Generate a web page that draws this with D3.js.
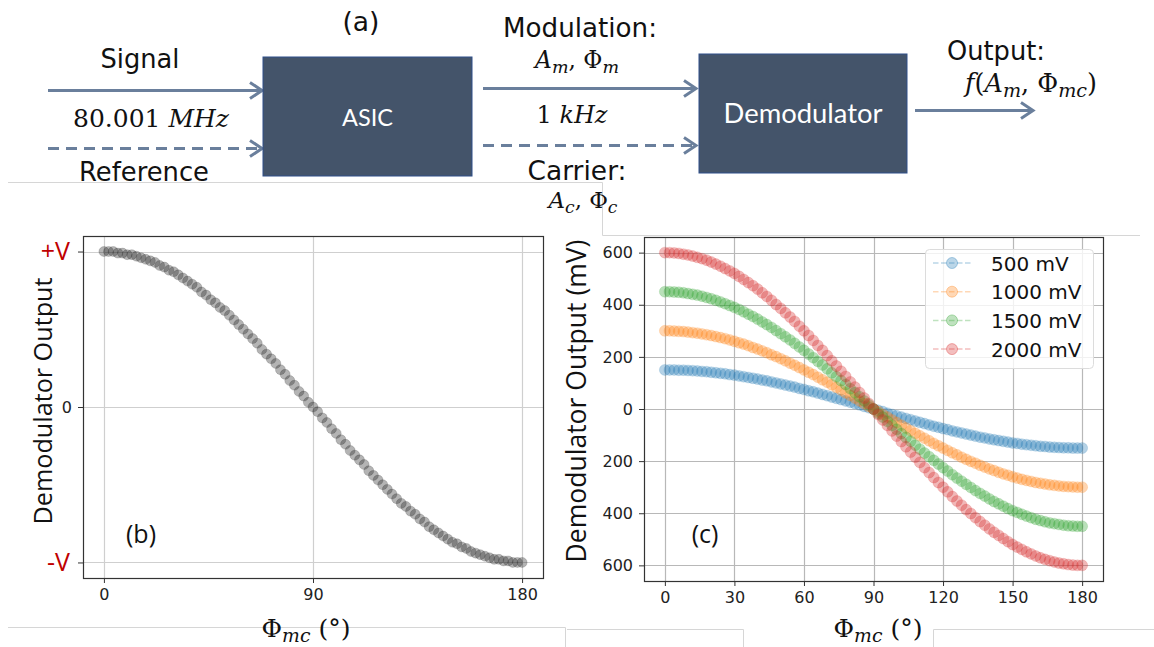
<!DOCTYPE html>
<html><head><meta charset="utf-8">
<script src="https://cdn.jsdelivr.net/npm/d3@7"></script>
<style>html,body{margin:0;padding:0;background:#fff;}svg{display:block;}</style>
</head><body>
<svg id="fig" width="1154" height="647"></svg>
<script>
// ---------------- DATA ----------------
const phases = [0,2,4,6,8,10,12,14,16,18,20,22,24,26,28,30,32,34,36,38,40,42,44,46,48,50,52,54,56,58,60,62,64,66,68,70,72,74,76,78,80,82,84,86,88,90,
 92,94,96,98,100,102,104,106,108,110,112,114,116,118,120,122,124,126,128,130,132,134,136,138,140,142,144,146,148,150,152,154,156,158,160,162,164,166,168,170,172,174,176,178,180];

// panel (b): normalized demodulator output (+V .. -V)
const normOutput = [1.00,1.00,1.00,0.99,0.99,0.98,0.98,0.97,0.96,0.95,0.94,0.93,0.91,0.90,0.88,0.87,0.85,0.83,0.81,0.79,0.77,0.74,0.72,0.69,0.67,0.64,0.62,0.59,0.56,0.53,0.50,0.47,0.44,0.41,0.37,0.34,0.31,0.28,0.24,0.21,0.17,0.14,0.10,0.07,0.03,0.00,
 -0.03,-0.07,-0.10,-0.14,-0.17,-0.21,-0.24,-0.28,-0.31,-0.34,-0.37,-0.41,-0.44,-0.47,-0.50,-0.53,-0.56,-0.59,-0.62,-0.64,-0.67,-0.69,-0.72,-0.74,-0.77,-0.79,-0.81,-0.83,-0.85,-0.87,-0.88,-0.90,-0.91,-0.93,-0.94,-0.95,-0.96,-0.97,-0.98,-0.98,-0.99,-0.99,-1.00,-1.00,-1.00];

// panel (c): demodulator output in mV for each modulation amplitude
const seriesNames = ["500 mV","1000 mV","1500 mV","2000 mV"];
const out500 = [150,150,150,149,149,148,147,146,144,143,141,139,137,135,132,130,127,124,121,118,115,111,108,104,100,96,92,88,84,79,75,70,66,61,56,51,46,41,36,31,26,21,16,10,5,0,
 -5,-10,-16,-21,-26,-31,-36,-41,-46,-51,-56,-61,-66,-70,-75,-79,-84,-88,-92,-96,-100,-104,-108,-111,-115,-118,-121,-124,-127,-130,-132,-135,-137,-139,-141,-143,-144,-146,-147,-148,-149,-149,-150,-150,-150];
const out1000 = [300,300,299,298,297,295,293,291,288,285,282,278,274,270,265,260,254,249,243,236,230,223,216,208,201,193,185,176,168,159,150,141,132,122,112,103,93,83,73,62,52,42,31,21,10,0,
 -10,-21,-31,-42,-52,-62,-73,-83,-93,-103,-112,-122,-132,-141,-150,-159,-168,-176,-185,-193,-201,-208,-216,-223,-230,-236,-243,-249,-254,-260,-265,-270,-274,-278,-282,-285,-288,-291,-293,-295,-297,-298,-299,-300,-300];
const out1500 = [450,450,449,448,446,443,440,437,433,428,423,417,411,404,397,390,382,373,364,355,345,334,324,313,301,289,277,265,252,238,225,211,197,183,169,154,139,124,109,94,78,63,47,31,16,0,
 -16,-31,-47,-63,-78,-94,-109,-124,-139,-154,-169,-183,-197,-211,-225,-238,-252,-265,-277,-289,-301,-313,-324,-334,-345,-355,-364,-373,-382,-390,-397,-404,-411,-417,-423,-428,-433,-437,-440,-443,-446,-448,-449,-450,-450];
const out2000 = [600,600,599,597,594,591,587,582,577,571,564,556,548,539,530,520,509,497,485,473,460,446,432,417,401,386,369,353,336,318,300,282,263,244,225,205,185,165,145,125,104,84,63,42,21,0,
 -21,-42,-63,-84,-104,-125,-145,-165,-185,-205,-225,-244,-263,-282,-300,-318,-336,-353,-369,-386,-401,-417,-432,-446,-460,-473,-485,-497,-509,-520,-530,-539,-548,-556,-564,-571,-577,-582,-587,-591,-594,-597,-599,-600,-600];

// tick values / labels
const xTicksB = [0,90,180];
const yTicksB = [1,0,-1];
const yTickLabelsB = ["+V","0","-V"];
const xTicksC = [0,30,60,90,120,150,180];
const yTicksC = [600,400,200,0,-200,-400,-600];
const yTickLabelsC = ["600","400","200","0","200","400","600"];

// ---------------- DRAW ----------------
const svg = d3.select("#fig");
const colors = ["#1f77b4","#ff7f0e","#2ca02c","#d62728"];
const seriesC = [out500,out1000,out1500,out2000];
const arrowCol = "#6a7f9c";

function fit(sel, target){
  const n = sel.node();
  const fs = parseFloat(sel.attr("font-size"));
  const w = n.getComputedTextLength();
  if (w>0) sel.attr("font-size", fs*target/w);
  return sel;
}

// background separator lines (pasted-image edges)
const sep = svg.append("g").attr("fill","none").attr("stroke","#d6d6d6").attr("stroke-width",1);
sep.append("path").attr("d","M8,182.5H602.5V235.5H1140");
sep.append("path").attr("d","M8,627.5H565.5V647");
sep.append("path").attr("d","M567,629.5H743.5V647");
sep.append("path").attr("d","M933.5,647V629.5H1154");

// ---------- (a) block diagram ----------
const dg = svg.append("g");
function arrow(x1,x2,y,dashed){
  dg.append("line").attr("x1",x1).attr("x2",x2-2).attr("y1",y).attr("y2",y)
    .attr("stroke",arrowCol).attr("stroke-width",3)
    .attr("stroke-dasharray",dashed?"11,7":null);
  dg.append("path").attr("d",`M${x2-12},${y-8}L${x2},${y}L${x2-12},${y+8}`)
    .attr("fill","none").attr("stroke",arrowCol).attr("stroke-width",3)
    .attr("stroke-linejoin","miter");
}
function box(x,y,w,h,label,tw){
  dg.append("rect").attr("x",x).attr("y",y).attr("width",w).attr("height",h)
    .attr("fill","#44546a").attr("stroke","#2f4f8a").attr("stroke-width",1);
  const t = dg.append("text").attr("x",x+w/2).attr("y",y+h/2+9).attr("text-anchor","middle")
    .attr("font-family","Lato, 'Open Sans', sans-serif").attr("font-size",24).attr("fill","#fff").text(label);
  fit(t,tw);
}
function label(x,y,str,tw){
  const t = dg.append("text").attr("x",x).attr("y",y).attr("text-anchor","middle")
    .attr("font-family","'DejaVu Sans', sans-serif").attr("font-size",24).attr("fill","#111").text(str);
  fit(t,tw);
}
// math text: parts = [text, italic, subscript, returnFromSubscript]
function math(g,x,y,parts,tw){
  const t = g.append("text").attr("x",x).attr("y",y).attr("text-anchor","middle")
    .attr("font-family","'DejaVu Serif', serif").attr("font-size",24).attr("fill","#111");
  parts.forEach(p=>{
    const s = t.append("tspan").text(p[0]);
    if(p[1]) s.attr("font-style","italic");
    if(p[2]) s.attr("font-size","75%").attr("dy","0.28em");
    else if(p[3]) s.attr("dy","-0.21em");
  });
  fit(t,tw);
  return t;
}

label(361,31,"(a)",37);
label(140,68,"Signal",79);
arrow(48,262,90.5,false);
math(dg,151,127,[["80.001 ",false,false],["MHz",true,false]],156);
arrow(48,262,148.5,true);
label(144,181,"Reference",130);
box(263,57,209,119,"ASIC",51);

label(580,37,"Modulation:",154);
math(dg,577,68,[["A",true,false],["m",true,true],[", ",false,false,true],["Φ",false,false],["m",true,true]],84);
arrow(483,696,88.5,false);
math(dg,572,123,[["1 ",false,false],["kHz",true,false]],71);
arrow(483,696,145.5,true);
label(577,180,"Carrier:",99);
math(dg,583,208,[["A",true,false],["c",true,true],[", ",false,false,true],["Φ",false,false],["c",true,true]],69);
box(699,54,208,119,"Demodulator",159);

label(996,60,"Output:",98);
math(dg,1031,92,[["f",true,false],["(",false,false],["A",true,false],["m",true,true],[", ",false,false,true],["Φ",false,false],["mc",true,true],[")",false,false,true]],132);
arrow(915,1033,110.5,false);

// ---------- panel helpers ----------
function panel(xs, ys, xTicks, yTicks, yLabels, gridCol){
  const g = svg.append("g");
  const [x0,x1] = xs.range(), [y0,y1] = ys.range();
  g.append("g").selectAll("line").data(xTicks).join("line")
    .attr("x1",d=>Math.round(xs(d))+0.5).attr("x2",d=>Math.round(xs(d))+0.5)
    .attr("y1",y1).attr("y2",y0).attr("stroke",gridCol).attr("stroke-width",1.2);
  g.append("g").selectAll("line").data(yTicks).join("line")
    .attr("y1",d=>Math.round(ys(d))+0.5).attr("y2",d=>Math.round(ys(d))+0.5)
    .attr("x1",x0).attr("x2",x1).attr("stroke",gridCol).attr("stroke-width",1.2);
  const ax = d3.axisBottom(xs).tickValues(xTicks).tickSize(5).tickPadding(6).tickSizeOuter(0);
  const xa = g.append("g").attr("transform",`translate(0,${y0})`).call(ax);
  xa.select(".domain").remove();
  xa.selectAll("text").attr("font-family","'DejaVu Sans', sans-serif").attr("font-size",16).attr("fill","#222");
  xa.selectAll("line").attr("stroke","#333");
  const ay = d3.axisLeft(ys).tickValues(yTicks).tickSize(5).tickPadding(6).tickFormat((d,i)=>yLabels[i]);
  const ya = g.append("g").attr("transform",`translate(${x0},0)`).call(ay);
  ya.select(".domain").remove();
  ya.selectAll("line").attr("stroke","#333");
  ya.selectAll("text").attr("font-family","'DejaVu Sans', sans-serif").attr("font-size",16).attr("fill","#222");
  return {g, ya};
}
function frame(g,xs,ys){
  const [x0,x1] = xs.range(), [y0,y1] = ys.range();
  g.append("rect").attr("x",x0+0.5).attr("y",y1+0.5).attr("width",x1-x0).attr("height",y0-y1)
    .attr("fill","none").attr("stroke","#333").attr("stroke-width",1.2);
}
function xLabel(x,y){
  math(svg,x,y,[["Φ",false,false],["mc",true,true],[" (°)",false,false,true]],89);
}
function yLabel(x,y,str,len){
  const t = svg.append("text").attr("transform",`translate(${x},${y}) rotate(-90)`)
    .attr("text-anchor","middle").attr("font-family","'Open Sans', sans-serif")
    .attr("font-size",26).attr("fill","#111").text(str);
  fit(t,len);
}

// ---------- (b) ----------
const xB = d3.scaleLinear().domain([-9,189]).range([83,543]);
const yB = d3.scaleLinear().domain([-1.1,1.1]).range([578,236]);
const pB = panel(xB,yB,xTicksB,yTicksB,yTickLabelsB,"#cfcfcf");
pB.ya.selectAll("text").each(function(d){
  if(d!==0){ d3.select(this).attr("font-family","'Open Sans', sans-serif").attr("font-size",25).attr("fill","#c00000").attr("dx",-2); }
});
pB.g.append("g").selectAll("circle").data(phases).join("circle")
  .attr("cx",d=>xB(d)).attr("cy",(d,i)=>yB(normOutput[i])).attr("r",5)
  .attr("fill","#1a1a1a").attr("fill-opacity",0.33).attr("stroke","#1a1a1a").attr("stroke-opacity",0.2).attr("stroke-width",0.8);
frame(pB.g,xB,yB);
svg.append("text").attr("x",141).attr("y",543).attr("text-anchor","middle")
  .attr("font-family","'Open Sans', sans-serif").attr("font-size",25).attr("fill","#111").text("(b)");
xLabel(306,637);
yLabel(52,401,"Demodulator Output",247);

// ---------- (c) ----------
const xC = d3.scaleLinear().domain([-9,189]).range([644,1103]);
const yC = d3.scaleLinear().domain([-660,660]).range([581,237]);
const pC = panel(xC,yC,xTicksC,yTicksC,yTickLabelsC,"#b8b8b8");
seriesC.forEach((vals,k)=>{
  pC.g.append("g").selectAll("circle").data(phases).join("circle")
    .attr("cx",d=>xC(d)).attr("cy",(d,i)=>yC(vals[i])).attr("r",5.5)
    .attr("fill",colors[k]).attr("fill-opacity",0.33)
    .attr("stroke",colors[k]).attr("stroke-opacity",0.2).attr("stroke-width",0.8);
});
frame(pC.g,xC,yC);
// legend
const lg = svg.append("g");
lg.append("rect").attr("x",925.5).attr("y",249.5).attr("width",168).attr("height",119).attr("rx",4)
  .attr("fill","#fff").attr("fill-opacity",0.8).attr("stroke","#dcdcdc");
seriesNames.forEach((nm,k)=>{
  const y = 263+k*28.7;
  lg.append("line").attr("x1",933).attr("x2",971).attr("y1",y).attr("y2",y)
    .attr("stroke",colors[k]).attr("stroke-opacity",0.3).attr("stroke-width",1.5).attr("stroke-dasharray","5.5,2.5");
  lg.append("circle").attr("cx",952).attr("cy",y).attr("r",5.5)
    .attr("fill",colors[k]).attr("fill-opacity",0.3).attr("stroke",colors[k]).attr("stroke-opacity",0.35);
  lg.append("text").attr("x",991).attr("y",y+7.5).attr("font-family","'DejaVu Sans', sans-serif")
    .attr("font-size",20).attr("fill","#111").text(nm);
});
svg.append("text").attr("x",705).attr("y",543).attr("text-anchor","middle")
  .attr("font-family","'Open Sans', sans-serif").attr("font-size",25).attr("fill","#111").text("(c)");
xLabel(878,637);
yLabel(586,401,"Demodulator Output (mV)",323);
</script>
</body></html>
